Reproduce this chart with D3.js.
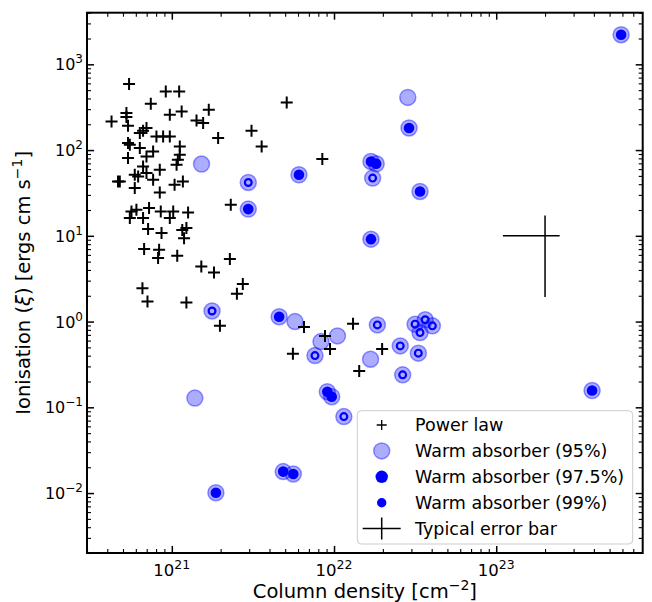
<!DOCTYPE html>
<html><head><meta charset="utf-8">
<script src="https://cdn.jsdelivr.net/npm/d3@7"></script>
<style>body{margin:0;background:#fff}svg{display:block}text{font-family:"DejaVu Sans",sans-serif;fill:#000}</style>
</head><body><svg id="c" width="652" height="602"></svg>
<script>
// ---- data ----
const powerLawN = [5.45e20,9.18e20,1.11e21,7.42e20,5.11e21,1.69e21,5.25e20,5.25e20,1.15e21,9.72e20,
  4.25e20,5.37e20,1.42e21,1.56e21,6.98e20,6.65e20,6.35e20,3.10e21,1.93e21,8.04e20,
  8.84e20,9.72e20,5.37e20,5.51e20,6.35e20,1.12e21,3.58e21,7.67e20,5.37e20,1.12e21,
  1.09e21,1.07e21,6.98e20,8.47e21,5.91e20,6.65e20,6.98e20,7.67e20,8.43e20,4.78e20,
  4.66e20,6.20e20,1.17e21,5.91e20,1.04e21,8.43e20,2.31e21,5.64e20,6.05e20,7.24e20,
  8.55e20,1.02e21,1.26e21,5.51e20,6.65e20,9.72e20,7.14e20,8.64e20,1.16e21,1.23e21,
  1.19e21,6.75e20,8.35e20,8.23e20,1.08e21,1.52e21,1.82e21,2.28e21,6.59e20,7.08e20,
  1.23e21,2.74e21,2.52e21,1.98e21,6.53e21,5.58e21,8.80e21,9.45e21,1.31e22,1.98e22,1.43e22];
const powerLawXi = [589,483,483,347,359,295,270,243,282,258,
  216,192,221,207,181,168,158,168,138,144,
  144,144,121,115,106,110,110,96.3,80.7,88.1,
  77.1,67.4,84.2,78.5,51.5,64.4,53.9,45.0,58.9,43.0,
  43.0,49.2,43.0,36.0,39.4,32.0,23.0,19.2,20.1,21.1,
  19.2,19.2,18.7,16.1,16.1,16.1,12.0,10.8,11.7,12.3,
  9.40,7.00,6.87,5.50,5.84,4.38,3.73,5.35,2.45,1.71,
  1.67,2.75,2.11,0.891,0.867,0.420,0.681,0.480,0.940,0.480,0.266];

// Warm absorber, significant at 95% only
const wa95N  = [1.525e21,2.85e22,1.387e21,5.75e21,8.31e21,1.05e22,1.68e22];
const wa95Xi = [68.7,411,0.128,1.0,0.584,0.681,0.364];
// Warm absorber (97.5%) - filled
const wa975N  = [5.89e23,2.90e22,1.69e22,1.82e22,3.39e22,1.69e22,6.08e21,2.96e21,4.59e21,1.87e21,4.86e21,5.61e21,9.09e21,9.68e21,3.90e23];
const wa975Xi = [2214,181,73.6,69.2,32.9,9.15,51.5,20.5,1.14,0.0101,0.0178,0.0167,0.152,0.133,0.157];
// Warm absorber (99%) - ring
const wa99N  = [2.96e21,1.77e21,7.63e21,1.15e22,1.85e22,2.56e22,2.65e22,3.31e22,3.16e22,3.65e22,4.04e22,3.39e22,1.73e22];
const wa99Xi = [41.9,1.33,0.401,0.0779,0.915,0.520,0.239,0.428,0.933,1.05,0.891,0.744,47.1];

// Typical error bar
const errN = 2.0e23, errNlo = 1.1e23, errNhi = 2.46e23;
const errXi = 10, errXilo = 1.93, errXihi = 17.3;

const xMajor = [1e21,1e22,1e23], xMajorExp = ["21","22","23"];
const yMajor = [1e-2,1e-1,1e0,1e1,1e2,1e3], yMajorExp = ["\u22122","\u22121","0","1","2","3"];
const legendLabels = ["Power law","Warm absorber (95%)","Warm absorber (97.5%)","Warm absorber (99%)","Typical error bar"];

// ---- drawing ----
const L=87, R=642.7, T=12.7, B=553;
const svg = d3.select("#c");
const x = d3.scaleLog().domain([3e20, 8e23]).range([L, R]);
const y = d3.scaleLog().domain([2e-3, 4e3]).range([B, T]);

function minors(dom){
  const out=[]; const a=Math.floor(Math.log10(dom[0])), b=Math.ceil(Math.log10(dom[1]));
  for(let e=a;e<=b;e++) for(let k=2;k<=9;k++){const v=k*Math.pow(10,e); if(v>=dom[0]&&v<=dom[1]) out.push(v);}
  return out;
}
const xMinor = minors(x.domain()), yMinor = minors(y.domain());

function axisSet(gen, tr, vals, size, w){
  const g = svg.append("g").attr("transform", tr).call(gen.tickValues(vals).tickSize(size).tickFormat(""));
  g.select(".domain").remove();
  g.selectAll(".tick line").attr("stroke","#000").attr("stroke-width",w);
}
[[d3.axisBottom(x),`translate(0,${B})`],[d3.axisTop(x),`translate(0,${T})`]].forEach(([gen,tr])=>{
  axisSet(gen,tr,xMajor,-7,1.5);
  axisSet(gen,tr,xMinor,-4,1.1);
});
[[d3.axisLeft(y),`translate(${L},0)`],[d3.axisRight(y),`translate(${R},0)`]].forEach(([gen,tr])=>{
  axisSet(gen,tr,yMajor,-7,1.5);
  axisSet(gen,tr,yMinor,-4,1.1);
});

// tick labels
xMajor.forEach((v,i)=>{
  const t = svg.append("text").attr("x", x(v)).attr("y", B+23).attr("text-anchor","middle").attr("font-size",16.5);
  t.append("tspan").text("10");
  t.append("tspan").attr("dy",-7).attr("font-size",12.5).text(xMajorExp[i]);
});
yMajor.forEach((v,i)=>{
  const t = svg.append("text").attr("x", L-4).attr("y", y(v)+6).attr("text-anchor","end").attr("font-size",16);
  t.append("tspan").text("10");
  t.append("tspan").attr("dy",-7).attr("font-size",12).text(yMajorExp[i]);
});

// axis labels
const xl = svg.append("text").attr("x",(L+R)/2).attr("y",597.5).attr("text-anchor","middle").attr("font-size",19.5);
xl.append("tspan").text("Column density [cm");
xl.append("tspan").attr("dy",-8).attr("font-size",14).text("\u22122");
xl.append("tspan").attr("dy",8).text("]");
const yl = svg.append("text").attr("transform",`translate(30,${(T+B)/2}) rotate(-90)`).attr("text-anchor","middle").attr("font-size",19.5);
yl.append("tspan").text("Ionisation (");
yl.append("tspan").attr("font-style","italic").text("\u03be");
yl.append("tspan").text(") [ergs cm s");
yl.append("tspan").attr("dy",-8).attr("font-size",14).text("\u22121");
yl.append("tspan").attr("dy",8).text("]");

// markers
const haloR = 8;
function halo(g, cx, cy, r){
  g.append("circle").attr("cx",cx).attr("cy",cy).attr("r",r)
   .attr("fill","#0000ff").attr("fill-opacity",0.32)
   .attr("stroke","#0000ff").attr("stroke-opacity",0.4).attr("stroke-width",1.5);
}
const gM = svg.append("g");
wa95N.forEach((n,i)=> halo(gM, x(n), y(wa95Xi[i]), haloR));
wa975N.forEach((n,i)=> halo(gM, x(n), y(wa975Xi[i]), haloR));
wa99N.forEach((n,i)=> halo(gM, x(n), y(wa99Xi[i]), haloR));
wa975N.forEach((n,i)=> gM.append("circle").attr("cx",x(n)).attr("cy",y(wa975Xi[i])).attr("r",5.3).attr("fill","#0000ff"));
wa99N.forEach((n,i)=> gM.append("circle").attr("cx",x(n)).attr("cy",y(wa99Xi[i])).attr("r",3.4)
   .attr("fill","none").attr("stroke","#0000ff").attr("stroke-width",2.2));

function plus(g, cx, cy, h, w){
  g.append("path").attr("d",`M${cx-h},${cy}H${cx+h}M${cx},${cy-h}V${cy+h}`).attr("stroke","#000").attr("stroke-width",w);
}
const gP = svg.append("g");
powerLawN.forEach((n,i)=> plus(gP, x(n), y(powerLawXi[i]), 6, 2));

// error bar
svg.append("path").attr("d",`M${x(errNlo)},${y(errXi)}H${x(errNhi)}M${x(errN)},${y(errXihi)}V${y(errXilo)}`)
  .attr("stroke","#000").attr("stroke-width",1.5).attr("fill","none");

// frame
svg.append("rect").attr("x",L).attr("y",T).attr("width",R-L).attr("height",B-T)
  .attr("fill","none").attr("stroke","#000").attr("stroke-width",2);

// legend
const lg = svg.append("g");
lg.append("rect").attr("x",357.3).attr("y",410.7).attr("width",275.4).attr("height",133.3).attr("rx",4)
  .attr("fill","#fff").attr("fill-opacity",0.8).attr("stroke","#cccccc").attr("stroke-width",1);
const mx = 381.7, tx = 415, rowY = i => 425 + i*25.9;
plus(lg, mx, rowY(0), 5, 1.3);
halo(lg, mx, rowY(1), 8);
lg.append("circle").attr("cx",mx).attr("cy",rowY(2)).attr("r",6.2).attr("fill","#0000ff");
lg.append("circle").attr("cx",mx).attr("cy",rowY(3)).attr("r",4.7).attr("fill","#0000ff");
lg.append("path").attr("d",`M${mx-19},${rowY(4)}H${mx+19}M${mx},${rowY(4)-11}V${rowY(4)+11}`).attr("stroke","#000").attr("stroke-width",1.5);
legendLabels.forEach((s,i)=> lg.append("text").attr("x",tx).attr("y",rowY(i)+6).attr("font-size",17.5).text(s));
</script></body></html>
